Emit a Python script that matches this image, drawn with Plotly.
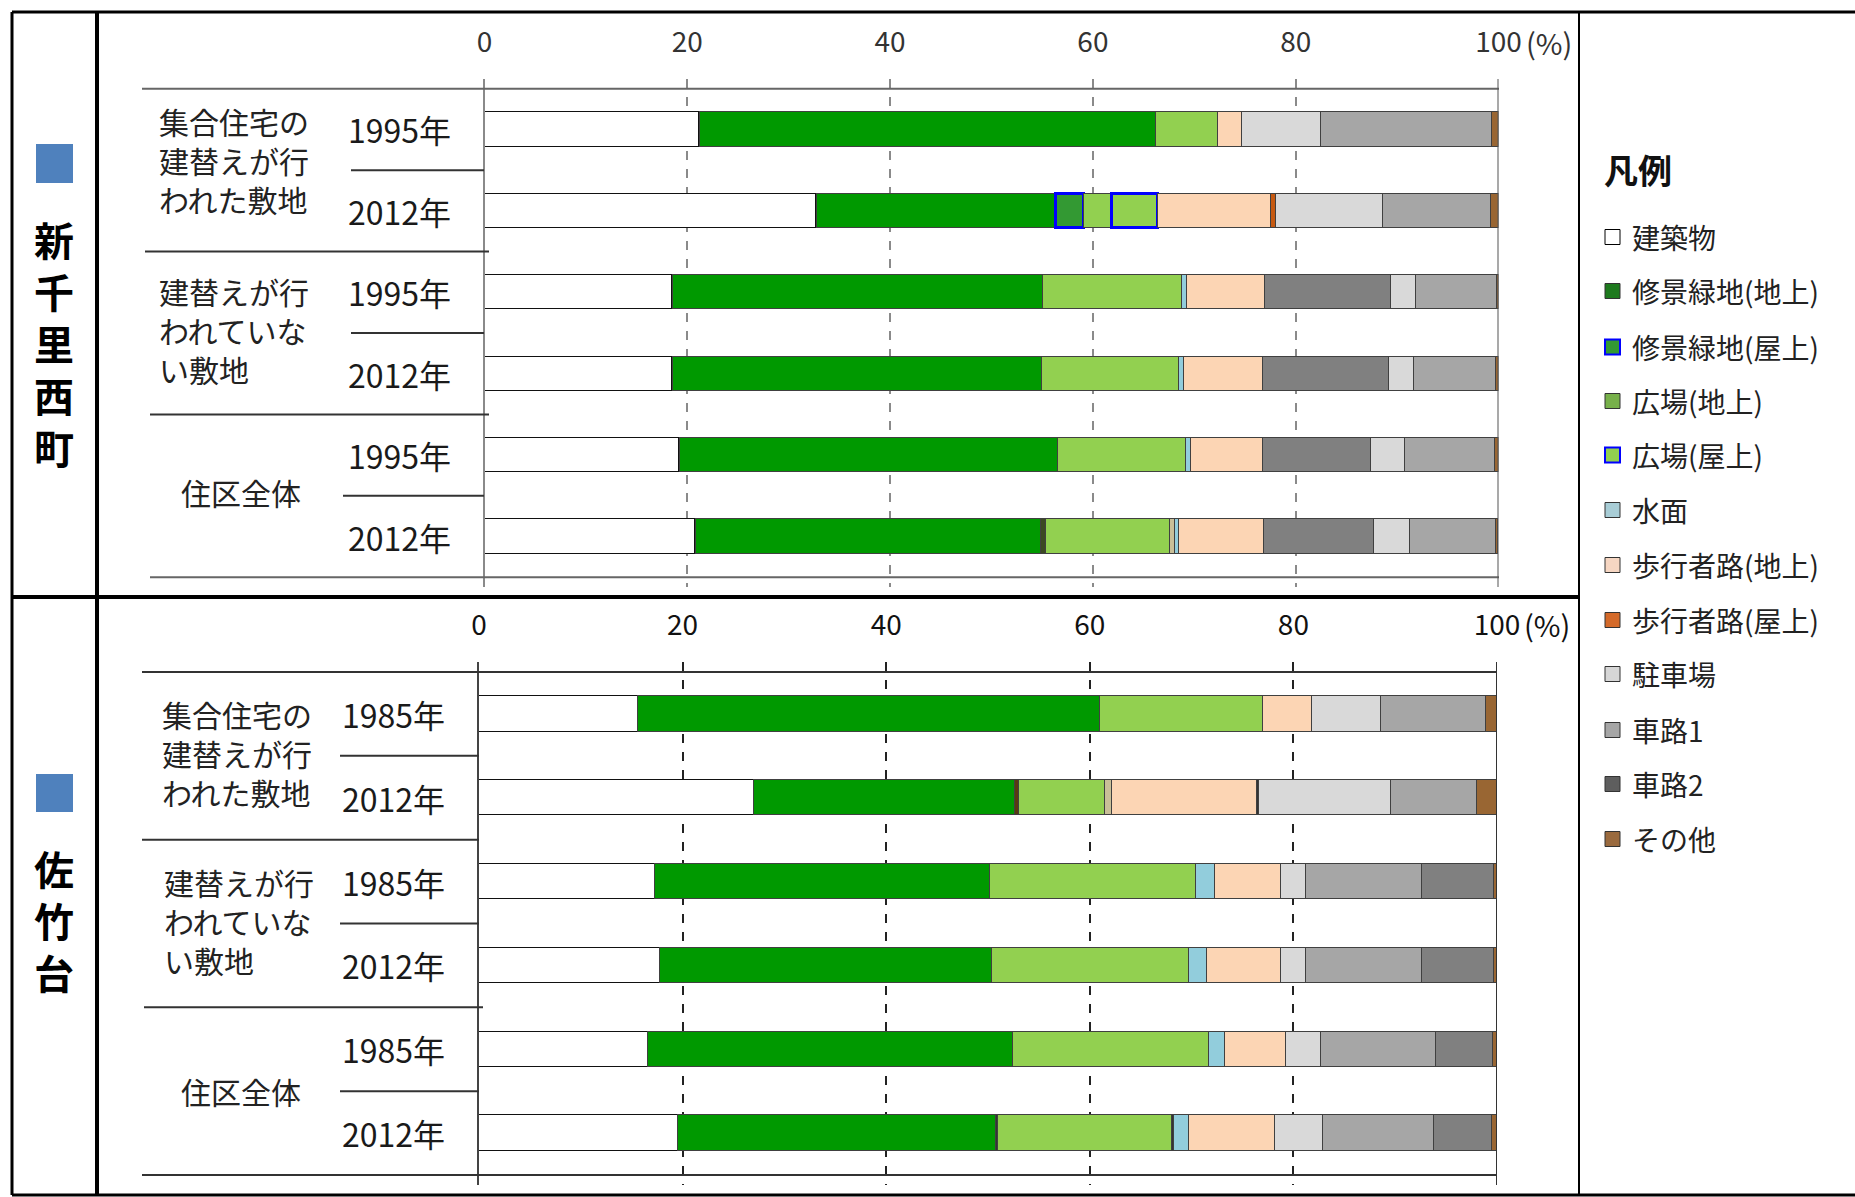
import plotly.graph_objects as go

# ---------------- data ----------------
series = ["建築物", "修景緑地(地上)", "修景緑地(屋上)", "広場(地上)", "広場(屋上)", "水面",
          "歩行者路(地上)", "歩行者路(屋上)", "駐車場", "車路1", "車路2", "その他"]
colors = ["#ffffff", "#009900", "#339933", "#92d050", "#92d050", "#92cddc",
          "#fcd5b4", "#c65911", "#d9d9d9", "#a6a6a6", "#808080", "#996633"]
legend_fill = ["#ffffff", "#1e7a1e", "#339933", "#77b04a", "#92d050", "#a8cdd6",
               "#f6d6c2", "#d46a2a", "#d6d6d6", "#a6a6a6", "#5e5e5e", "#9a6a3e"]
legend_border = ["#000000", "#333333", "#0000ff", "#333333", "#0000ff", "#333333",
                 "#333333", "#333333", "#333333", "#333333", "#333333", "#333333"]

top_years = ["1995年", "2012年", "1995年", "2012年", "1995年", "2012年"]
bottom_years = ["1985年", "2012年", "1985年", "2012年", "1985年", "2012年"]
groups = ["集合住宅の<br>建替えが行<br>われた敷地", "建替えが行<br>われていな<br>い敷地", "住区全体"]
top_title = "新千里西町"
bottom_title = "佐竹台"

# 新千里西町 (%), rows: 集合1995, 集合2012, 非建替1995, 非建替2012, 全体1995, 全体2012
top_values = {
    "建築物":         [21.2, 32.7, 18.5, 18.5, 19.2, 20.8],
    "修景緑地(地上)": [45.0, 23.6, 36.5, 36.4, 37.35, 34.05],
    "修景緑地(屋上)": [0, 2.8, 0, 0, 0, 0.45],
    "広場(地上)":     [6.1, 2.75, 13.7, 13.5, 12.6, 12.25],
    "広場(屋上)":     [0, 4.55, 0, 0, 0, 0.45],
    "水面":           [0, 0, 0.5, 0.5, 0.45, 0.45],
    "歩行者路(地上)": [2.4, 11.15, 7.7, 7.8, 7.1, 8.4],
    "歩行者路(屋上)": [0, 0.5, 0, 0, 0, 0],
    "駐車場":         [7.7, 10.55, 2.5, 2.4, 3.3, 3.6],
    "車路1":          [16.9, 10.6, 8.0, 8.1, 8.95, 8.45],
    "車路2":          [0, 0, 12.4, 12.5, 10.7, 10.8],
    "その他":         [0.7, 0.8, 0.2, 0.3, 0.35, 0.25],
}
# 佐竹台 (%), rows: 集合1985, 集合2012, 非建替1985, 非建替2012, 全体1985, 全体2012
bottom_values = {
    "建築物":         [15.6, 27.0, 17.25, 17.8, 16.6, 19.5],
    "修景緑地(地上)": [45.45, 25.65, 32.95, 32.6, 35.85, 31.3],
    "修景緑地(屋上)": [0, 0.35, 0, 0, 0, 0.2],
    "広場(地上)":     [16.0, 8.45, 20.25, 19.3, 19.25, 17.05],
    "広場(屋上)":     [0, 0.7, 0, 0, 0, 0.25],
    "水面":           [0, 0, 1.85, 1.85, 1.55, 1.4],
    "歩行者路(地上)": [4.8, 14.25, 6.45, 7.2, 6.05, 8.45],
    "歩行者路(屋上)": [0, 0.2, 0, 0, 0, 0],
    "駐車場":         [6.8, 12.95, 2.5, 2.5, 3.45, 4.8],
    "車路1":          [10.25, 8.5, 11.4, 11.4, 11.25, 10.85],
    "車路2":          [0, 0, 7.1, 7.1, 5.6, 5.7],
    "その他":         [1.1, 1.95, 0.25, 0.25, 0.4, 0.5],
}
top_order = ["建築物", "修景緑地(地上)", "修景緑地(屋上)", "広場(地上)", "広場(屋上)", "水面",
             "歩行者路(地上)", "歩行者路(屋上)", "車路2", "駐車場", "車路1", "その他"]
bottom_order = ["建築物", "修景緑地(地上)", "修景緑地(屋上)", "広場(地上)", "広場(屋上)", "水面",
                "歩行者路(地上)", "歩行者路(屋上)", "駐車場", "車路1", "車路2", "その他"]
# thin slivers / highlighted rooftop segments drawn with their own colours
top_fill_override = {
    "修景緑地(屋上)": [None, None, None, None, None, "#3b4a22"],
    "広場(屋上)":     [None, None, None, None, None, "#c9bf98"],
}
top_line_override = {
    "修景緑地(屋上)": ["#404040", "#0000ff", "#404040", "#404040", "#404040", "#404040"],
    "広場(屋上)":     ["#404040", "#0000ff", "#404040", "#404040", "#404040", "#404040"],
}
bottom_fill_override = {
    "修景緑地(屋上)": [None, "#5a3a10", None, None, None, "#333333"],
    "広場(屋上)":     [None, "#c9bf98", None, None, None, "#333333"],
    "歩行者路(屋上)": [None, "#333333", None, None, None, None],
}
x_ticks = [0, 20, 40, 60, 80, 100]

# ---------------- figure ----------------
W, H = 1855, 1197
def PX(x): return x / W
def PY(y): return 1 - y / H

FONT = "Noto Sans CJK JP"
FONT_ML = "Liberation Sans, Noto Sans CJK JP"   # multi-line labels
fig = go.Figure()
rows = list(range(6))

def add_bars(values, order, fill_ovr, line_ovr, xa, ya):
    for name in order:
        base = colors[series.index(name)]
        vals = [v if v > 0 else None for v in values[name]]
        fills = [(fill_ovr.get(name, [None]*6)[i] or base) for i in rows]
        lines = line_ovr.get(name, ["#404040"]*6) if line_ovr else ["#404040"]*6
        widths = [3 if c == "#0000ff" else 1 for c in lines]
        if name == "建築物":
            lines = ["#111111"]*6
            widths = [1.5]*6
        fig.add_trace(go.Bar(
            x=vals, y=rows, orientation="h", name=name, width=0.42,
            marker=dict(color=fills, line=dict(color=lines, width=widths)),
            xaxis=xa, yaxis=ya, showlegend=False,
            hovertemplate=name + ": %{x}%<extra></extra>"))

add_bars(top_values, top_order, top_fill_override, top_line_override, "x", "y")
add_bars(bottom_values, bottom_order, bottom_fill_override, {}, "x2", "y2")

common_x = dict(range=[0, 100], tickvals=x_ticks, ticktext=[str(t) for t in x_ticks],
                side="top", showgrid=True, griddash="dash", gridwidth=1.5,
                zeroline=False, showline=False, ticks="", fixedrange=True,
                ticklabelstandoff=20)
common_y = dict(range=[5.62, -0.62], showticklabels=False, showgrid=False, zeroline=False,
                ticks="", showline=True, linewidth=2, fixedrange=True)

fig.update_layout(
    autosize=True, margin=dict(l=0, r=0, t=0, b=0, autoexpand=False),
    paper_bgcolor="white", plot_bgcolor="white", barmode="stack", bargap=0,
    font=dict(family=FONT, color="#222222"),
    xaxis=dict(common_x, domain=[PX(484.5), PX(1498.5)], anchor="y", gridcolor="#8a8a8a",
               tickfont=dict(size=28, color="#333333", family=FONT)),
    yaxis=dict(common_y, domain=[PY(587), PY(79)], anchor="x", linecolor="#8a8a8a"),
    xaxis2=dict(common_x, domain=[PX(479), PX(1497)], anchor="y2", gridcolor="#222222",
                tickfont=dict(size=28, color="#111111", family=FONT)),
    yaxis2=dict(common_y, domain=[PY(1185), PY(662)], anchor="x2", linecolor="#444444"),
)

shapes = []
def pline(x0, y0, x1, y1, w=3, c="#000000"):
    shapes.append(dict(type="line", xref="paper", yref="paper",
                       x0=PX(x0), y0=PY(y0), x1=PX(x1), y1=PY(y1),
                       line=dict(color=c, width=w)))

# frame
pline(12, 12, 1855, 12, 3)
pline(12, 1195, 1855, 1195, 3)
pline(12, 12, 12, 1195, 3)
pline(97, 12, 97, 1195, 4)
pline(12, 597, 1579, 597, 4)
pline(1579, 12, 1579, 1195, 2)

def sep(yref, y, x0, x1, c, w=2):
    shapes.append(dict(type="line", xref="paper", yref=yref, x0=PX(x0), x1=PX(x1),
                       y0=y, y1=y, line=dict(color=c, width=w)))

# top chart separators
sep("y", -0.5, 142, 1499, "#666666")
sep("y", 5.5, 150, 1499, "#666666")
sep("y", 1.5, 145, 489, "#333333")
sep("y", 3.5, 150, 489, "#333333")
for yy in (0.5, 2.5):
    sep("y", yy, 351, 484, "#333333")
sep("y", 4.5, 343, 484, "#333333")
shapes.append(dict(type="line", xref="x", yref="y", x0=100, x1=100, y0=-0.62, y1=5.62,
                   line=dict(color="#555555", width=2)))
# bottom chart separators
sep("y2", -0.5, 142, 1497, "#333333")
sep("y2", 5.5, 142, 1497, "#333333")
sep("y2", 1.5, 142, 479, "#333333")
sep("y2", 3.5, 144, 483, "#333333")
for yy in (0.5, 2.5, 4.5):
    sep("y2", yy, 340, 479, "#333333")
shapes.append(dict(type="line", xref="x2", yref="y2", x0=100, x1=100, y0=-0.62, y1=5.62,
                   line=dict(color="#333333", width=2)))

# blue markers in the left column
for (y0, y1) in ((144, 183), (774, 812)):
    shapes.append(dict(type="rect", xref="paper", yref="paper", x0=PX(36), x1=PX(73),
                       y0=PY(y1), y1=PY(y0), fillcolor="#4f81bd", line=dict(width=0)))

# legend squares
legend_y = [237, 291, 347, 401, 455, 510, 565, 620, 674, 730, 784, 839]
for i, name in enumerate(series):
    yc = legend_y[i]
    shapes.append(dict(type="rect", xref="paper", yref="paper",
                       x0=PX(1605), x1=PX(1620), y0=PY(yc + 7.5), y1=PY(yc - 7.5),
                       fillcolor=legend_fill[i],
                       line=dict(color=legend_border[i], width=2 if legend_border[i] == "#0000ff" else 1)))
fig.update_layout(shapes=shapes)

ann = []
def text(x, y, s, size, xref="paper", yref="paper", xanchor="center", align="center",
         color="#222222", weight=None, family=FONT):
    f = dict(size=size, color=color, family=family)
    if weight:
        f["weight"] = weight
    ann.append(dict(x=x, y=y, xref=xref, yref=yref, text=s, showarrow=False,
                    xanchor=xanchor, yanchor="middle", align=align, font=f))

# vertical titles (one character per line)
text(PX(54), PY(346), "<br>".join(top_title), 40, color="#000000", weight=700, family=FONT_ML)
text(PX(54), PY(923), "<br>".join(bottom_title), 40, color="#000000", weight=700, family=FONT_ML)

# year labels
for i, yl in enumerate(top_years):
    text(PX(399), i, yl, 32, yref="y", color="#1a1a1a")
for i, yl in enumerate(bottom_years):
    text(PX(393), i, yl, 32, yref="y2", color="#1a1a1a")

# group labels
text(PX(157), 0.4, groups[0], 30, yref="y", xanchor="left", align="left", family=FONT_ML)
text(PX(157), 2.5, groups[1], 30, yref="y", xanchor="left", align="left", family=FONT_ML)
text(PX(241), 4.45, groups[2], 30, yref="y")
text(PX(160), 0.5, groups[0], 30, yref="y2", xanchor="left", align="left", family=FONT_ML)
text(PX(162), 2.5, groups[1], 30, yref="y2", xanchor="left", align="left", family=FONT_ML)
text(PX(241), 4.5, groups[2], 30, yref="y2")

# (%) unit after 100
text(PX(1524), PY(42), "(%)", 29, xanchor="left", color="#333333")
text(PX(1522), PY(624), "(%)", 29, xanchor="left", color="#111111")

# legend
text(PX(1602), PY(169), "凡例", 34, xanchor="left", color="#111111", weight=700)
for i, name in enumerate(series):
    text(PX(1630), PY(legend_y[i]), name, 28, xanchor="left", color="#222222")

fig.update_layout(annotations=ann)

post = """
var gd = document.getElementById('{plot_id}');
var de = document.documentElement, b = document.body;
de.style.margin = '0'; de.style.padding = '0'; de.style.overflow = 'hidden';
b.style.margin = '0'; b.style.padding = '0'; b.style.overflow = 'hidden';
gd.style.width = '100vw'; gd.style.height = '100vh';
Plotly.Plots.resize(gd);
"""
fig.write_html("out.html", config={"displayModeBar": False, "responsive": True},
               default_width="100vw", default_height="100vh", post_script=post)
